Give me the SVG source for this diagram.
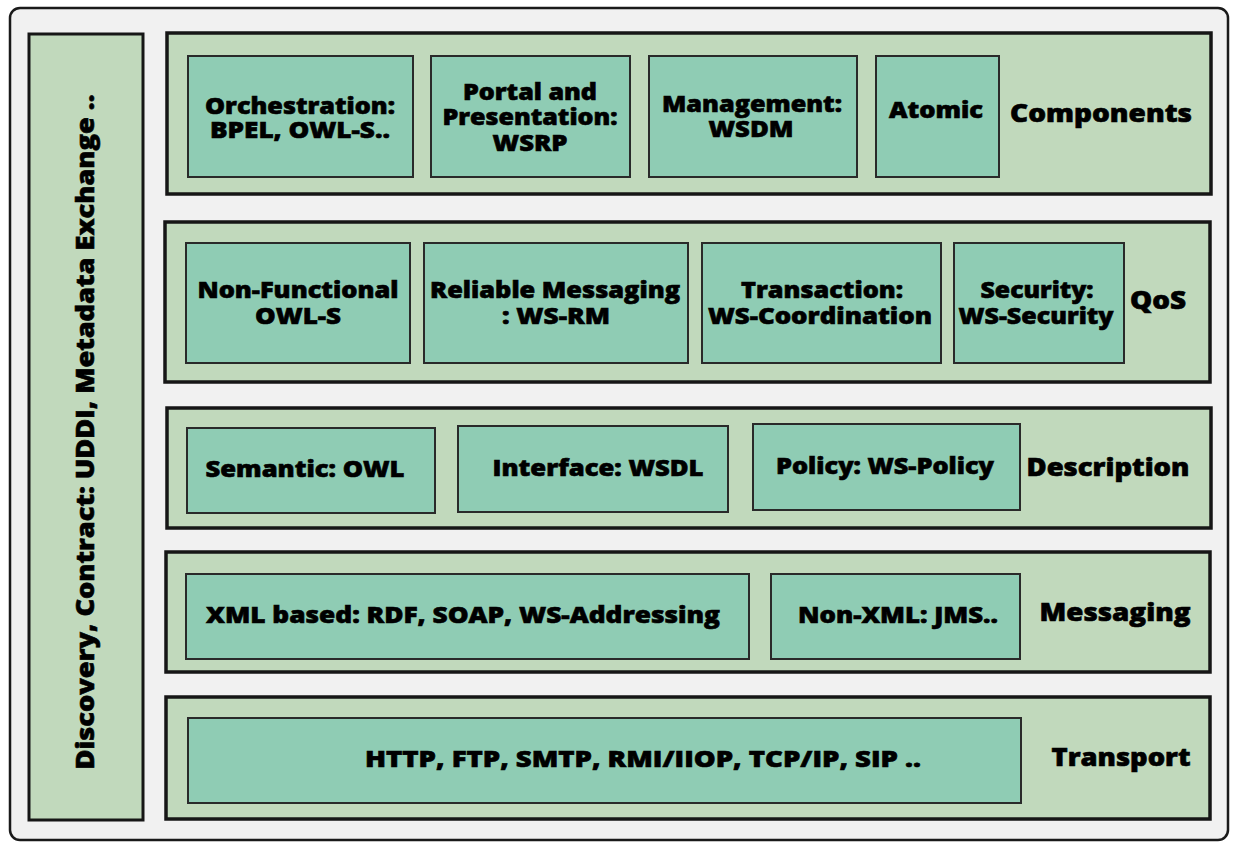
<svg xmlns="http://www.w3.org/2000/svg" width="1235" height="844" viewBox="0 0 1235 844">
<style>
.frame{fill:#f1f1f1;stroke:#1a1a1a;stroke-width:2.5}
.row{fill:#c1d9bc;stroke:#161616;stroke-width:3.5}
.side{fill:#c1d9bc;stroke:#161616;stroke-width:3}
.box{fill:#8fccb4;stroke:#2a2a2a;stroke-width:2}
text{font-family:"Open Sans","DejaVu Sans",sans-serif;font-weight:800;fill:#000;stroke:#000;stroke-width:0.6;text-anchor:middle}
.t{font-size:22px}
.l{font-size:24px}
</style>
<rect class="frame" x="10" y="8" width="1218" height="832" rx="10" ry="10"/>
<g id="discovery">
<rect class="side" x="29" y="34" width="114" height="786"/>
<text class="l" transform="translate(94,432) rotate(-90)" x="0" y="0" textLength="675" lengthAdjust="spacingAndGlyphs">Discovery, Contract: UDDI, Metadata Exchange ..</text>
</g>
<g id="components">
<rect class="row" x="167" y="33" width="1044" height="161"/>
<text class="l" x="1101" y="122" textLength="182" lengthAdjust="spacingAndGlyphs">Components</text>
</g>
<g id="orchestration">
<rect class="box" x="188" y="56" width="225" height="121"/>
<text class="t" x="300" y="114" textLength="190" lengthAdjust="spacingAndGlyphs">Orchestration:</text>
<text class="t" x="300" y="138" textLength="180" lengthAdjust="spacingAndGlyphs">BPEL, OWL-S..</text>
</g>
<g id="portal">
<rect class="box" x="431" y="56" width="199" height="121"/>
<text class="t" x="530" y="100" textLength="134" lengthAdjust="spacingAndGlyphs">Portal and</text>
<text class="t" x="530" y="125" textLength="175" lengthAdjust="spacingAndGlyphs">Presentation:</text>
<text class="t" x="530" y="151" textLength="75" lengthAdjust="spacingAndGlyphs">WSRP</text>
</g>
<g id="management">
<rect class="box" x="649" y="56" width="208" height="121"/>
<text class="t" x="752" y="112" textLength="180" lengthAdjust="spacingAndGlyphs">Management:</text>
<text class="t" x="751" y="137" textLength="85" lengthAdjust="spacingAndGlyphs">WSDM</text>
</g>
<g id="atomic">
<rect class="box" x="876" y="56" width="123" height="121"/>
<text class="t" x="936" y="118" textLength="94" lengthAdjust="spacingAndGlyphs">Atomic</text>
</g>
<g id="qos">
<rect class="row" x="165" y="222" width="1045" height="160"/>
<text class="l" x="1158" y="309" textLength="56" lengthAdjust="spacingAndGlyphs">QoS</text>
</g>
<g id="nonfunctional">
<rect class="box" x="186" y="243" width="224" height="120"/>
<text class="t" x="298" y="298" textLength="201" lengthAdjust="spacingAndGlyphs">Non-Functional</text>
<text class="t" x="298" y="324" textLength="86" lengthAdjust="spacingAndGlyphs">OWL-S</text>
</g>
<g id="reliable">
<rect class="box" x="424" y="243" width="264" height="120"/>
<text class="t" x="555" y="298" textLength="250" lengthAdjust="spacingAndGlyphs">Reliable Messaging</text>
<text class="t" x="556" y="324" textLength="108" lengthAdjust="spacingAndGlyphs">: WS-RM</text>
</g>
<g id="transaction">
<rect class="box" x="702" y="243" width="239" height="120"/>
<text class="t" x="822" y="298" textLength="162" lengthAdjust="spacingAndGlyphs">Transaction:</text>
<text class="t" x="820" y="324" textLength="224" lengthAdjust="spacingAndGlyphs">WS-Coordination</text>
</g>
<g id="security">
<rect class="box" x="954" y="243" width="170" height="120"/>
<text class="t" x="1037" y="298" textLength="113" lengthAdjust="spacingAndGlyphs">Security:</text>
<text class="t" x="1036" y="324" textLength="155" lengthAdjust="spacingAndGlyphs">WS-Security</text>
</g>
<g id="description">
<rect class="row" x="167" y="408" width="1044" height="120"/>
<text class="l" x="1108" y="476" textLength="163" lengthAdjust="spacingAndGlyphs">Description</text>
</g>
<g id="semantic">
<rect class="box" x="187" y="428" width="248" height="85"/>
<text class="t" x="305" y="477" textLength="199" lengthAdjust="spacingAndGlyphs">Semantic: OWL</text>
</g>
<g id="interface">
<rect class="box" x="458" y="426" width="270" height="86"/>
<text class="t" x="598" y="476" textLength="211" lengthAdjust="spacingAndGlyphs">Interface: WSDL</text>
</g>
<g id="policy">
<rect class="box" x="753" y="424" width="267" height="86"/>
<text class="t" x="885" y="474" textLength="218" lengthAdjust="spacingAndGlyphs">Policy: WS-Policy</text>
</g>
<g id="messaging">
<rect class="row" x="166" y="552" width="1044" height="120"/>
<text class="l" x="1115" y="621" textLength="151" lengthAdjust="spacingAndGlyphs">Messaging</text>
</g>
<g id="xmlbased">
<rect class="box" x="186" y="574" width="563" height="85"/>
<text class="t" x="463" y="623" textLength="514" lengthAdjust="spacingAndGlyphs">XML based: RDF, SOAP, WS-Addressing</text>
</g>
<g id="nonxml">
<rect class="box" x="771" y="574" width="249" height="85"/>
<text class="t" x="898" y="623" textLength="200" lengthAdjust="spacingAndGlyphs">Non-XML: JMS..</text>
</g>
<g id="transport">
<rect class="row" x="166" y="697" width="1044" height="122"/>
<text class="l" x="1121" y="766" textLength="139" lengthAdjust="spacingAndGlyphs">Transport</text>
</g>
<g id="protocols">
<rect class="box" x="188" y="718" width="833" height="85"/>
<text class="t" x="643" y="767" textLength="556" lengthAdjust="spacingAndGlyphs">HTTP, FTP, SMTP, RMI/IIOP, TCP/IP, SIP ..</text>
</g>
<g id="connectors"/>
</svg>
